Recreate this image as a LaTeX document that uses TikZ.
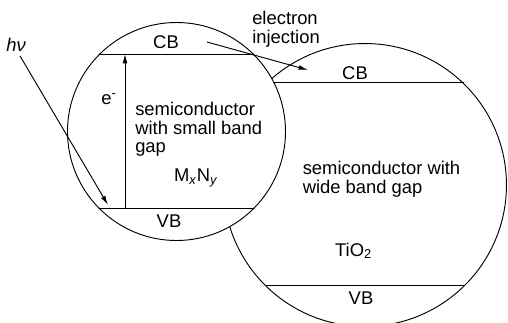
\documentclass[tikz,border=0pt]{standalone}
\usepackage{fontspec}
\setmainfont{Liberation Sans}
\usetikzlibrary{arrows.meta}

\begin{document}
\begin{tikzpicture}[
  x=0.75pt, y=-0.75pt,
  blob/.style={draw, circle, line width=0.7pt, inner sep=0pt},
  band/.style={line width=0.7pt},
  lbl/.style={inner sep=0pt, font=\fontsize{13.8}{14}\selectfont},
  arrow/.style={-{Latex[length=7pt,width=3.6pt]}, line width=0.7pt},
]
\useasboundingbox (0,0) rectangle (508,322);
% --- wide band gap semiconductor (right) ---
\node[blob, minimum size=212.2pt] (big) at (365,185) {};
\draw[band] (big.134) -- (big.46);
\draw[band] (big.-135) -- (big.-45);
% --- small band gap semiconductor (left, in front) ---
\node[blob, fill=white, minimum size=163.5pt] (small) at (176.5,131.5) {};
\draw[band] (small.135) -- (small.45);
\draw[band] (small.-135) -- (small.-45);
% --- labels ---
\node[lbl, anchor=base] (sCB) at (166,48) {CB};
\node[lbl, anchor=base] (sVB) at (169,227) {VB};
\node[lbl, anchor=base] (bCB) at (355,79) {CB};
\node[lbl, anchor=base] (bVB) at (361,304) {VB};
\node[lbl, anchor=west, align=left] (sText) at (135,129.5) {semiconductor\\with small band\\gap};
\node[lbl, anchor=base] (MN) at (196,181.7) {M\textsubscript{\textit{x}}N\textsubscript{\textit{y}}};
\node[lbl, anchor=west, align=left] (bText) at (302.5,179.5) {semiconductor with\\wide band gap};
\node[lbl, anchor=base] (TiO) at (353.5,256) {TiO\textsubscript{2}};
\node[lbl, anchor=west, align=left] (inj) at (252,29.5) {electron\\injection};
\node[lbl, anchor=base] (hv) at (16,51) {\textit{hν}};
\node[lbl, anchor=base] (el) at (109,104) {e\textsuperscript{-}};
% --- arrows ---
\coordinate (hvEnd) at (108,205);
\coordinate (eBot) at (125,209);
\coordinate (eTop) at (125,54);
\coordinate (injStart) at (207,42);
\coordinate (injEnd) at (308,70);
\draw[arrow] ([xshift=3pt,yshift=-3.5pt]hv.south) -- (hvEnd);
\draw[arrow] (eBot) -- (eTop);
\draw[arrow] (injStart) -- (injEnd);
\end{tikzpicture}
\end{document}
